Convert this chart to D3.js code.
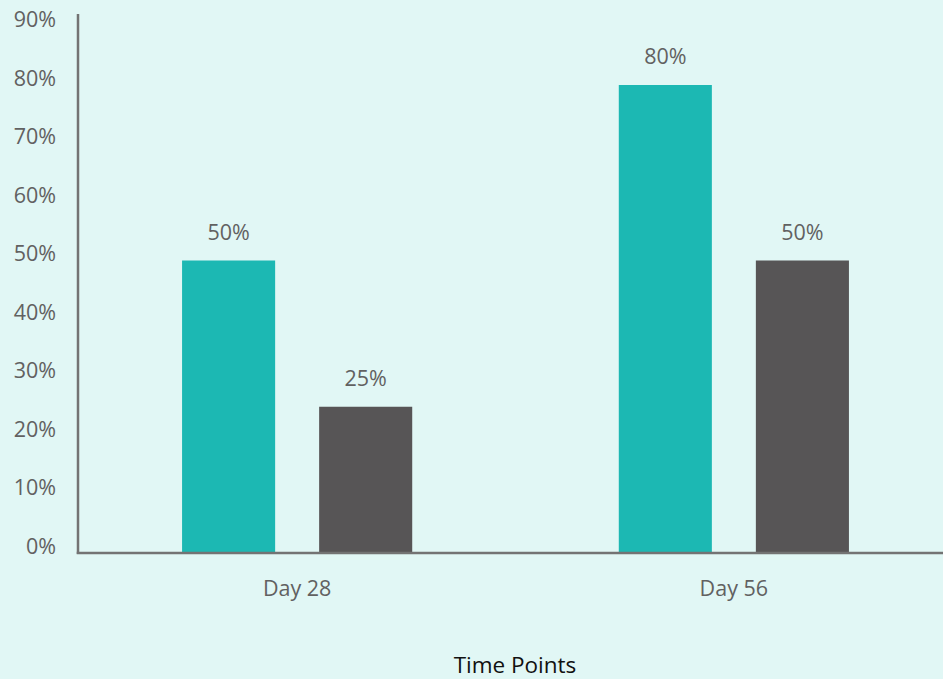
<!DOCTYPE html>
<html>
<head>
<meta charset="utf-8">
<script src="https://cdn.jsdelivr.net/npm/d3@7"></script>
<style>
  html, body { margin: 0; padding: 0; background: #e1f7f5; }
  svg { display: block; }
</style>
</head>
<body>
<svg id="chart" width="943" height="679"></svg>
<script>
const categories = ["Day 28", "Day 56"];
const seriesNames = ["Series A", "Series B"];
const seriesA = [0.50, 0.80];
const seriesB = [0.25, 0.50];
const yTicks = [0, 0.1, 0.2, 0.3, 0.4, 0.5, 0.6, 0.7, 0.8, 0.9];
const xTitle = "Time Points";

const colors = ["#1cb8b3", "#575556"];
const data = categories.map((c, i) => ({ cat: c, values: [seriesA[i], seriesB[i]] }));

const svg = d3.select("#chart");
const W = 943, H = 679;
const x0Px = 78, zeroY = 553;

const y = d3.scaleLinear().domain([0, 0.92]).range([zeroY, zeroY - 0.92 * 585]);
const x0 = d3.scaleBand().domain(categories).range([79, 952]).paddingInner(0.473).paddingOuter(0.236);
const x1 = d3.scaleBand().domain([0, 1]).range([0, x0.bandwidth()]).paddingInner(0.321).paddingOuter(0);

const textColor = "#616161";
const font = "'Open Sans', 'Noto Sans', sans-serif";
const fs = 21.5;

// bars
const groups = svg.append("g").selectAll("g").data(data).join("g")
  .attr("transform", d => `translate(${x0(d.cat)},0)`);
groups.selectAll("rect").data(d => d.values.map((v, j) => ({ v, j })))
  .join("rect")
  .attr("x", d => x1(d.j))
  .attr("width", x1.bandwidth())
  .attr("y", d => y(d.v))
  .attr("height", d => zeroY - y(d.v))
  .attr("fill", d => colors[d.j]);

// value labels
groups.selectAll("text").data(d => d.values.map((v, j) => ({ v, j })))
  .join("text")
  .attr("x", d => x1(d.j) + x1.bandwidth() / 2)
  .attr("y", d => y(d.v) - 21)
  .attr("text-anchor", "middle")
  .attr("font-family", font)
  .attr("font-size", fs)
  .attr("fill", textColor)
  .text(d => d3.format(".0%")(d.v));

// y axis
const yAxis = d3.axisLeft(y).tickValues(yTicks).tickFormat(d3.format(".0%")).tickSize(0).tickPadding(22);
const gy = svg.append("g").attr("transform", `translate(${x0Px},0)`).call(yAxis);
gy.select(".domain").remove();
gy.selectAll("text")
  .attr("font-family", font)
  .attr("font-size", fs)
  .attr("fill", textColor)
  .attr("dy", "0.02em");

svg.append("line")
  .attr("x1", x0Px).attr("x2", x0Px)
  .attr("y1", 14).attr("y2", zeroY + 1)
  .attr("stroke", "#737373").attr("stroke-width", 2.5);

// x axis
const xAxis = d3.axisBottom(x0).tickSize(0).tickPadding(28);
const gx = svg.append("g").attr("transform", `translate(0,${zeroY})`).call(xAxis);
gx.select(".domain").remove();
gx.selectAll("text")
  .attr("font-family", font)
  .attr("font-size", fs)
  .attr("fill", textColor);

svg.append("line")
  .attr("x1", x0Px - 1.25).attr("x2", W)
  .attr("y1", zeroY).attr("y2", zeroY)
  .attr("stroke", "#737373").attr("stroke-width", 2.5);

// x title
svg.append("text")
  .attr("x", 515)
  .attr("y", 673)
  .attr("text-anchor", "middle")
  .attr("font-family", font)
  .attr("font-size", 22.5)
  .attr("fill", "#111")
  .text(xTitle);
</script>
</body>
</html>
